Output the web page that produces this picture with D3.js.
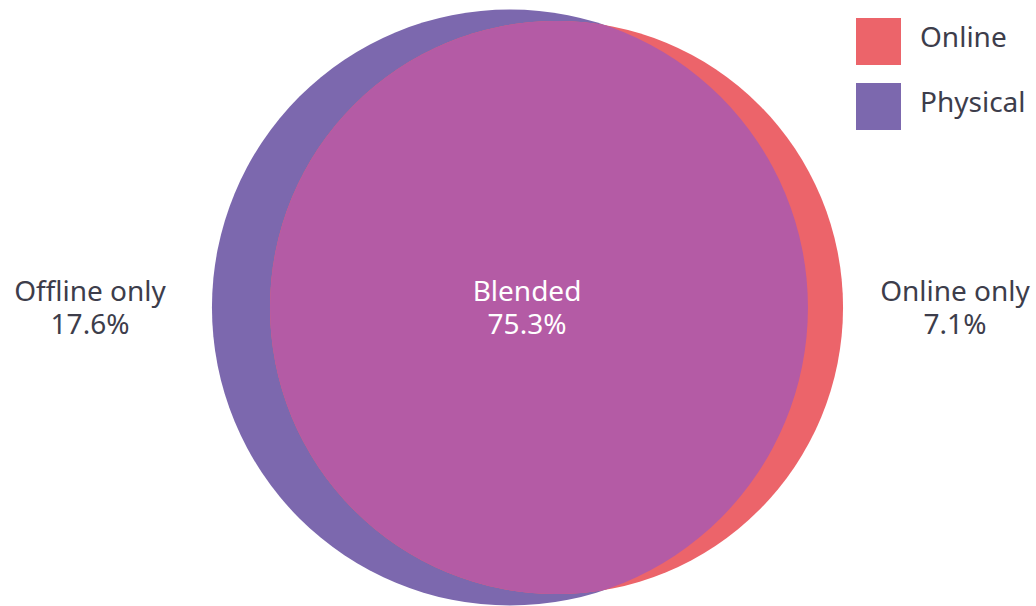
<!DOCTYPE html>
<html>
<head>
<meta charset="utf-8">
<script src="https://cdn.jsdelivr.net/npm/d3@7"></script>
<style>
  body { margin: 0; background: #fff; }
  svg text { font-family: "Noto Sans", "Open Sans", sans-serif; fill: #3d3d4b; }
</style>
</head>
<body>
<div id="vis"></div>
<script>
const width = 1036,
  height = 606;

// circle areas as drawn (share of the union)
const setNames = ["Physical", "Online"];
const setSizes = [94.1, 87.0];
const overlapSize = 81.1;
const colors = ["#7c68ae", "#ec646a"];
const blendColor = "#b45ba5";

// region labels
const regionNames = ["Offline only", "Blended", "Online only"];
const regionValues = [17.6, 75.3, 7.1];

const svg = d3
  .select("#vis")
  .append("svg")
  .attr("width", width)
  .attr("height", height);

// radius from area, unit scale first
const rUnit = setSizes.map((s) => Math.sqrt(s / Math.PI));

function overlapArea(r1, r2, d) {
  if (d >= r1 + r2) return 0;
  if (d <= Math.abs(r1 - r2)) return Math.PI * Math.min(r1, r2) ** 2;
  const a = Math.acos((d * d + r1 * r1 - r2 * r2) / (2 * d * r1));
  const b = Math.acos((d * d + r2 * r2 - r1 * r1) / (2 * d * r2));
  return (
    r1 * r1 * (a - Math.sin(2 * a) / 2) + r2 * r2 * (b - Math.sin(2 * b) / 2)
  );
}

// find centre distance giving the wanted overlap
let lo = Math.abs(rUnit[0] - rUnit[1]),
  hi = rUnit[0] + rUnit[1];
for (let i = 0; i < 80; i++) {
  const mid = (lo + hi) / 2;
  if (overlapArea(rUnit[0], rUnit[1], mid) > overlapSize) lo = mid;
  else hi = mid;
}
const dUnit = (lo + hi) / 2;

// fit the union into the frame
const unionH = 2 * Math.max(...rUnit);
const k = d3.scaleLinear().domain([0, unionH]).range([0, 596]);
const minX = -rUnit[0],
  maxX = Math.max(rUnit[0], dUnit + rUnit[1]);
const xs = d3
  .scaleLinear()
  .domain([minX, maxX])
  .range([527.5 - k(maxX - minX) / 2, 527.5 + k(maxX - minX) / 2]);
const cy = 307.5;

const circles = setNames.map((name, i) => ({
  name,
  cx: xs(i === 0 ? 0 : dUnit),
  r: k(rUnit[i]),
  color: colors[i],
}));

svg
  .append("defs")
  .append("clipPath")
  .attr("id", "clipP")
  .append("circle")
  .attr("cx", circles[0].cx)
  .attr("cy", cy)
  .attr("r", circles[0].r);

svg
  .selectAll("circle.set")
  .data(circles)
  .join("circle")
  .attr("class", "set")
  .attr("cx", (d) => d.cx)
  .attr("cy", cy)
  .attr("r", (d) => d.r)
  .attr("fill", (d) => d.color);

// overlap
svg
  .append("circle")
  .attr("cx", circles[1].cx)
  .attr("cy", cy)
  .attr("r", circles[1].r)
  .attr("clip-path", "url(#clipP)")
  .attr("fill", blendColor);

// labels
const labelX = [90, 527, 955];
const labels = svg
  .selectAll("g.lab")
  .data(regionNames)
  .join("g")
  .attr("class", "lab")
  .attr("transform", (d, i) => `translate(${labelX[i]},0)`);

labels
  .append("text")
  .attr("y", 301)
  .attr("text-anchor", "middle")
  .style("font-size", "28px")
  .style("fill", (d, i) => (i === 1 ? "#fff" : null))
  .text((d) => d);

labels
  .append("text")
  .attr("y", 334)
  .attr("text-anchor", "middle")
  .style("font-size", "28px")
  .style("fill", (d, i) => (i === 1 ? "#fff" : null))
  .text((d, i) => d3.format(".1f")(regionValues[i]) + "%");

// legend
const legend = svg
  .selectAll("g.leg")
  .data(["Online", "Physical"])
  .join("g")
  .attr("class", "leg")
  .attr("transform", (d, i) => `translate(856,${18 + i * 65})`);

legend
  .append("rect")
  .attr("width", 45)
  .attr("height", 47)
  .attr("fill", (d) => colors[setNames.indexOf(d)]);

legend
  .append("text")
  .attr("x", 64)
  .attr("y", 29)
  .style("font-size", "28px")
  .text((d) => d);
</script>
</body>
</html>
